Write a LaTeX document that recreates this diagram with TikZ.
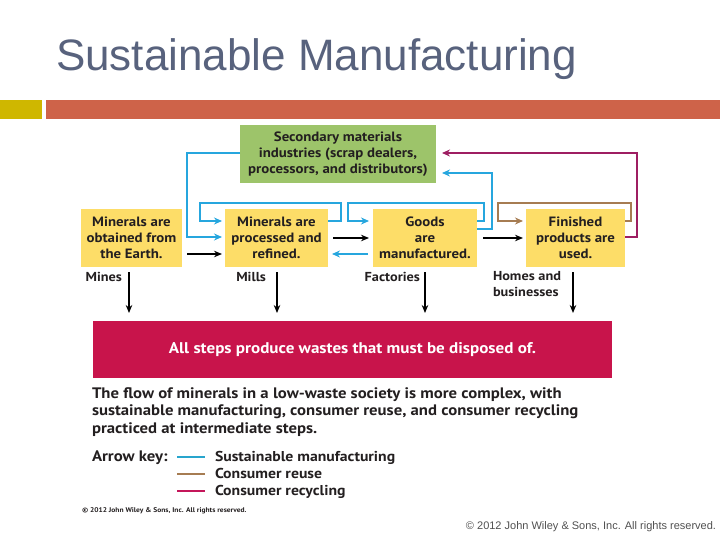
\documentclass[tikz,border=0pt]{standalone}
\usepackage{fontspec}
\setmainfont{PT Sans}[FakeStretch=1.1]
\newfontfamily\arialf{Liberation Sans}
\usetikzlibrary{calc,arrows.meta}
\definecolor{titlec}{RGB}{88,98,125}
\definecolor{baryel}{RGB}{207,183,0}
\definecolor{barora}{RGB}{206,99,73}
\definecolor{boxyel}{RGB}{253,221,104}
\definecolor{boxgrn}{RGB}{157,196,106}
\definecolor{boxred}{RGB}{200,20,75}
\definecolor{txtc}{RGB}{35,31,32}
\definecolor{smblue}{RGB}{38,166,222}
\definecolor{crbrown}{RGB}{166,124,82}
\definecolor{crmag}{RGB}{158,30,98}
\definecolor{keymag}{RGB}{196,22,90}
\definecolor{keyblue}{RGB}{40,165,205}
\definecolor{copyc}{RGB}{80,80,80}
\begin{document}
\begin{tikzpicture}[x=1pt,y=-1pt,
  every node/.style={inner sep=0pt,outer sep=0pt},
  stagebox/.style={fill=boxyel,minimum height=58pt,align=center,text=txtc,
    font=\bfseries\fontsize{13.5}{16}\selectfont},
  lbl/.style={text=txtc,font=\bfseries\fontsize{13}{16}\selectfont,align=left},
  captxt/.style={text=txtc,font=\bfseries\fontsize{15.2}{17.5}\selectfont},
  keytxt/.style={text=txtc,font=\bfseries\fontsize{14.3}{17}\selectfont},
  blk/.style={draw=black,line width=1.3pt,-{Stealth[length=8pt,width=6.5pt]}},
  blu/.style={draw=smblue,line width=2pt,-{Stealth[length=8pt,width=7pt]}},
  brn/.style={draw=crbrown,line width=2pt,-{Stealth[length=8pt,width=7pt]}},
  mag/.style={draw=crmag,line width=2pt,-{Stealth[length=8pt,width=7pt]}},
  keyline/.style={line width=2pt}
]
\useasboundingbox (0,0) rectangle (720,540);
% title and bar
\node[anchor=base west,text=titlec,font=\arialf\fontsize{44}{50}\selectfont] (title) at (56,71) {Sustainable Manufacturing};
\fill[baryel] (0,100) rectangle (42,119);
\fill[barora] (46,100) rectangle (720,119);
% boxes
\node[fill=boxgrn,minimum width=196pt,minimum height=58pt,align=center,text=txtc,
  font=\bfseries\fontsize{13.5}{16}\selectfont] (g) at (338,154)
  {Secondary materials\\industries (scrap dealers,\\processors, and distributors)};
\node[stagebox,minimum width=101pt] (b1) at (131.5,238) {Minerals are\\obtained from\\the Earth.};
\node[stagebox,minimum width=103pt] (b2) at (276.5,238) {Minerals are\\processed and\\refined.};
\node[stagebox,minimum width=104pt] (b3) at (425,238) {Goods\\are\\manufactured.};
\node[stagebox,minimum width=99pt] (b4) at (575.5,238) {Finished\\products are\\used.};
\node[fill=boxred,minimum width=519pt,minimum height=57pt,text=white,
  font=\bfseries\fontsize{15.5}{18}\selectfont] (red) at (352.5,349.5)
  {All steps produce wastes that must be disposed of.};
% labels
\node[lbl,anchor=base east] (l1) at (122,281) {Mines};
\node[lbl,anchor=base east] (l2) at (266,281) {Mills};
\node[lbl,anchor=base east] (l3) at (420,281) {Factories};
\node[lbl,anchor=north west] (l4) at (493,271) {Homes and\\businesses};
% black arrows
\draw[blk] ($(b1.east)+(5,16)$) -- ($(b2.west)+(-3,16)$);
\draw[blk] ($(b2.east)+(5,0)$) -- ($(b3.west)+(-4,0)$);
\draw[blk] ($(b3.east)+(6,0)$) -- ($(b4.west)+(-3,0)$);
% down arrows
\draw[blk] ($(b1.south)+(-2.5,5)$) -- ($(b1.south)+(-2.5,46)$);
\draw[blk] ($(b2.south)+(0.5,5)$) -- ($(b2.south)+(0.5,46)$);
\draw[blk] ($(b3.south)+(0,5)$) -- ($(b3.south)+(0,46)$);
\draw[blk] ($(b4.south)+(-2.5,5)$) -- ($(b4.south)+(-2.5,46)$);
% blue connectors
\draw[blu] ($(g.west)+(0,-1)$) -| ($(b2.west)+(-38,-1)$) -- ($(b2.west)+(-3,-1)$);
\draw[blu] ($(b2.east)+(0,-17)$) -- ++(13,0) -- ++(0,-18) -| ($(b2.west)+(-25,-17)$) -- ($(b2.west)+(-3,-17)$);
\draw[blu] ($(b3.east)+(0,-17)$) -- ++(7,0) -- ++(0,-18) -| ($(b3.west)+(-25,-17)$) -- ($(b3.west)+(-4,-17)$);
\draw[blu] ($(b3.west)+(-5,16)$) -- ($(b2.east)+(4,16)$);
\draw[blu] ($(b3.east)+(0,-9)$) -- ++(15,0) |- ($(g.east)+(6,19)$);
% brown
\draw[brn] ($(b4.east)+(0,-17)$) -- ++(6,0) -- ++(0,-18) -| ($(b4.west)+(-28,-17)$) -- ($(b4.west)+(-3,-17)$);
% magenta
\draw[mag] ($(b4.east)+(0,-1)$) -- ++(12,0) |- ($(g.east)+(6,-1)$);
% caption
\node[captxt,anchor=base west,align=left] (cap) at (92,433)
  {The flow of minerals in a low-waste society is more complex, with\\sustainable manufacturing, consumer reuse, and consumer recycling\\practiced at intermediate steps.};
% key
\node[captxt,anchor=base west] (keyt) at (92,461) {Arrow key:};
\node[keytxt,anchor=base west] (k1) at (215,461) {Sustainable manufacturing};
\node[keytxt,anchor=base west] (k2) at (215,478) {Consumer reuse};
\node[keytxt,anchor=base west] (k3) at (215,495) {Consumer recycling};
\draw[keyline,keyblue] (177,457) -- (205,457);
\draw[keyline,crbrown] (177,474) -- (205,474);
\draw[keyline,keymag] (177,491) -- (205,491);
% small copyright
\node[anchor=base west,text=txtc,font=\bfseries\fontsize{6.8}{7}\selectfont] (sc) at (82,512) {\textcopyright\ 2012 John Wiley \& Sons, Inc. All rights reserved.};
\node[anchor=base east,text=copyc,font=\arialf\fontsize{11}{13}\selectfont] (bc) at (716,529) {\textcopyright\ 2012 John Wiley \& Sons, Inc. All rights reserved.};
\end{tikzpicture}
\end{document}
